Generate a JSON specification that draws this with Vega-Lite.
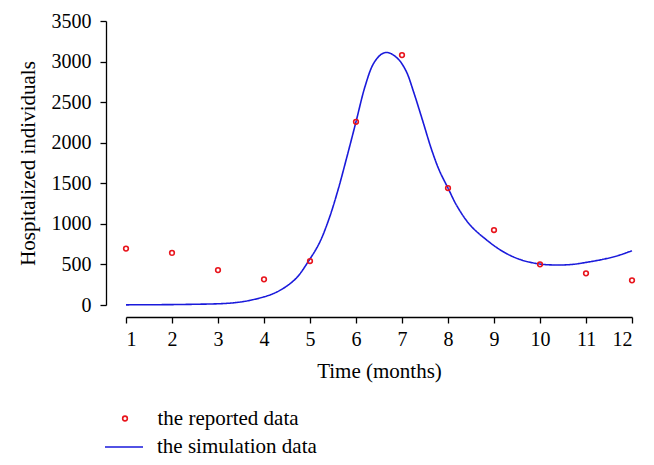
{
  "$schema": "https://vega.github.io/schema/vega-lite/v6.json",
  "autosize": "none",
  "width": 506,
  "height": 284,
  "padding": {"left": 126, "top": 21, "right": 22, "bottom": 160},
  "background": "white",
  "config": {
    "view": {"stroke": null},
    "font": "Liberation Serif",
    "axis": {
      "grid": false,
      "domainColor": "black",
      "tickColor": "black",
      "labelColor": "black",
      "titleColor": "black",
      "labelFont": "Liberation Serif",
      "titleFont": "Liberation Serif",
      "labelFontSize": 20,
      "titleFontSize": 21,
      "titleFontWeight": "normal",
      "tickSize": 6,
      "domainWidth": 1.3,
      "tickWidth": 1.3
    },
    "legend": {
      "labelFont": "Liberation Serif",
      "labelFontSize": 21,
      "labelColor": "black",
      "padding": 0
    }
  },
  "datasets": {
    "reported": [
      {"month": 1, "value": 695, "series": "the reported data"},
      {"month": 2, "value": 642, "series": "the reported data"},
      {"month": 3, "value": 430, "series": "the reported data"},
      {"month": 4, "value": 316, "series": "the reported data"},
      {"month": 5, "value": 542, "series": "the reported data"},
      {"month": 6, "value": 2258, "series": "the reported data"},
      {"month": 7, "value": 3080, "series": "the reported data"},
      {"month": 8, "value": 1441, "series": "the reported data"},
      {"month": 9, "value": 924, "series": "the reported data"},
      {"month": 10, "value": 501, "series": "the reported data"},
      {"month": 11, "value": 390, "series": "the reported data"},
      {"month": 12, "value": 304, "series": "the reported data"}
    ],
    "simulation": [
      {"month": 1.0, "value": 2, "series": "the simulation data"},
      {"month": 2.0, "value": 5, "series": "the simulation data"},
      {"month": 2.6, "value": 10, "series": "the simulation data"},
      {"month": 3.0, "value": 15, "series": "the simulation data"},
      {"month": 3.3, "value": 25, "series": "the simulation data"},
      {"month": 3.5, "value": 38, "series": "the simulation data"},
      {"month": 3.7, "value": 58, "series": "the simulation data"},
      {"month": 4.0, "value": 100, "series": "the simulation data"},
      {"month": 4.2, "value": 140, "series": "the simulation data"},
      {"month": 4.42, "value": 205, "series": "the simulation data"},
      {"month": 4.7, "value": 330, "series": "the simulation data"},
      {"month": 4.97, "value": 542, "series": "the simulation data"},
      {"month": 5.2, "value": 760, "series": "the simulation data"},
      {"month": 5.4, "value": 1040, "series": "the simulation data"},
      {"month": 5.6, "value": 1400, "series": "the simulation data"},
      {"month": 5.8, "value": 1820, "series": "the simulation data"},
      {"month": 6.0, "value": 2258, "series": "the simulation data"},
      {"month": 6.2, "value": 2700, "series": "the simulation data"},
      {"month": 6.38, "value": 2975, "series": "the simulation data"},
      {"month": 6.55, "value": 3090, "series": "the simulation data"},
      {"month": 6.68, "value": 3112, "series": "the simulation data"},
      {"month": 6.8, "value": 3085, "series": "the simulation data"},
      {"month": 6.95, "value": 3010, "series": "the simulation data"},
      {"month": 7.1, "value": 2870, "series": "the simulation data"},
      {"month": 7.25, "value": 2630, "series": "the simulation data"},
      {"month": 7.45, "value": 2270, "series": "the simulation data"},
      {"month": 7.64, "value": 1920, "series": "the simulation data"},
      {"month": 7.81, "value": 1660, "series": "the simulation data"},
      {"month": 8.0, "value": 1441, "series": "the simulation data"},
      {"month": 8.2, "value": 1215, "series": "the simulation data"},
      {"month": 8.48, "value": 986, "series": "the simulation data"},
      {"month": 8.84, "value": 801, "series": "the simulation data"},
      {"month": 9.2, "value": 657, "series": "the simulation data"},
      {"month": 9.57, "value": 560, "series": "the simulation data"},
      {"month": 10.0, "value": 505, "series": "the simulation data"},
      {"month": 10.36, "value": 493, "series": "the simulation data"},
      {"month": 10.7, "value": 500, "series": "the simulation data"},
      {"month": 11.0, "value": 525, "series": "the simulation data"},
      {"month": 11.37, "value": 563, "series": "the simulation data"},
      {"month": 11.7, "value": 610, "series": "the simulation data"},
      {"month": 12.0, "value": 669, "series": "the simulation data"}
    ]
  },
  "layer": [
    {
      "data": {"name": "simulation"},
      "mark": {"type": "line", "color": "#1a1adb", "strokeWidth": 1.6, "interpolate": "catmull-rom"},
      "encoding": {
        "x": {
          "field": "month", "type": "quantitative",
          "scale": {"domain": [1, 12], "nice": false, "zero": false},
          "axis": {"values": [1,2,3,4,5,6,7,8,9,10,11,12], "title": "Time (months)", "offset": 12, "labelPadding": 6, "titlePadding": 11}
        },
        "y": {
          "field": "value", "type": "quantitative",
          "scale": {"domain": [0, 3500], "nice": false},
          "axis": {"values": [0,500,1000,1500,2000,2500,3000,3500], "format": "d", "title": "Hospitalized individuals", "offset": 20, "labelPadding": 9, "titlePadding": 13}
        },
        "strokeDash": {
          "field": "series", "type": "nominal",
          "scale": {"domain": ["the simulation data"], "range": [[1, 0]]},
          "legend": {"orient": "none", "legendX": -22, "legendY": 406, "title": null, "symbolType": "stroke", "symbolSize": 1444, "symbolStrokeColor": "#1a1adb", "symbolStrokeWidth": 1.6, "labelOffset": 13}
        }
      }
    },
    {
      "data": {"name": "reported"},
      "mark": {"type": "point", "shape": "circle", "filled": false, "color": "#e8141c", "strokeWidth": 1.6, "size": 22, "opacity": 1},
      "encoding": {
        "x": {"field": "month", "type": "quantitative"},
        "y": {"field": "value", "type": "quantitative"},
        "shape": {
          "field": "series", "type": "nominal",
          "scale": {"domain": ["the reported data"], "range": ["circle"]},
          "legend": {"orient": "none", "legendX": -11.5, "legendY": 387, "title": null, "symbolSize": 22, "symbolStrokeColor": "#e8141c", "symbolFillColor": "transparent", "symbolStrokeWidth": 1.6, "symbolOpacity": 1, "labelOffset": 22}
        }
      }
    }
  ]
}
